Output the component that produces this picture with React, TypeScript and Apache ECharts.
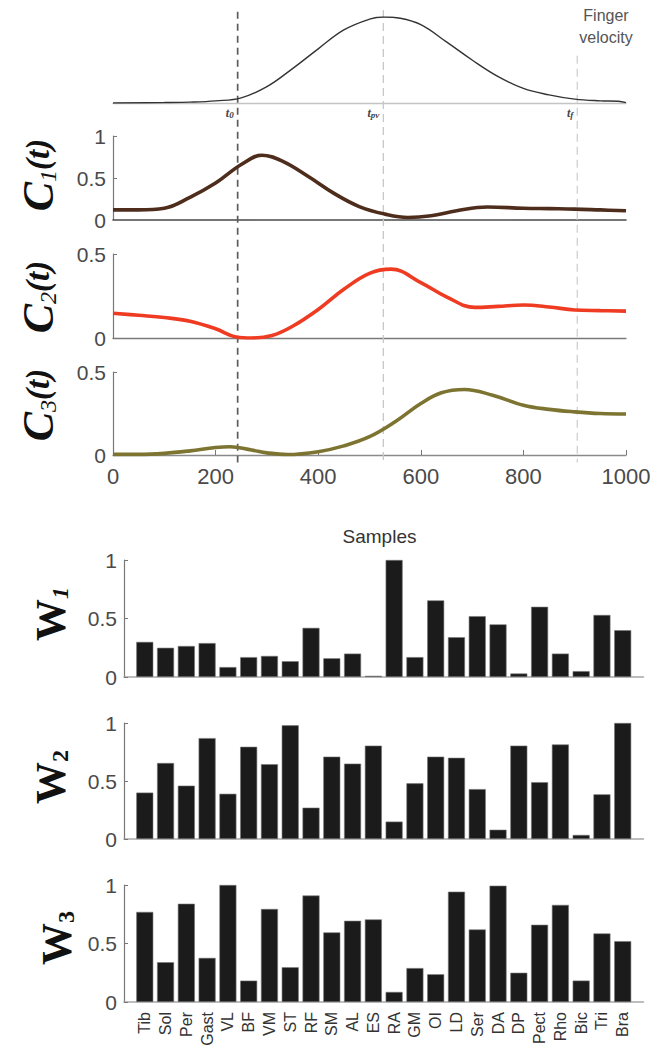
import React, { useEffect, useRef } from "react";
import * as echarts from "echarts";

// ---------- data ----------
const sampleTicks = [0, 200, 400, 600, 800, 1000];

const velocityT = [0, 100, 150, 200, 250, 300, 350, 400, 450, 500, 527, 560, 600, 650, 700, 750, 800, 850, 900, 950, 985, 1000];
const velocityV = [0, 0.005, 0.01, 0.025, 0.06, 0.19, 0.4, 0.63, 0.85, 0.975, 1.0, 0.985, 0.91, 0.71, 0.5, 0.31, 0.17, 0.095, 0.045, 0.025, 0.02, 0.004];

const c1T = [0, 50, 100, 150, 200, 250, 290, 330, 380, 430, 480, 530, 575, 620, 670, 730, 800, 850, 900, 950, 1000];
const c1V = [0.12, 0.12, 0.14, 0.27, 0.44, 0.66, 0.77, 0.7, 0.52, 0.32, 0.16, 0.07, 0.03, 0.05, 0.11, 0.155, 0.14, 0.135, 0.13, 0.12, 0.11];

const c2T = [0, 50, 100, 150, 200, 240, 270, 310, 350, 400, 450, 500, 542, 600, 650, 705, 750, 800, 850, 900, 950, 1000];
const c2V = [0.147, 0.135, 0.122, 0.1, 0.055, 0.006, 0.0, 0.015, 0.07, 0.17, 0.29, 0.385, 0.41, 0.33, 0.245, 0.182, 0.188, 0.196, 0.185, 0.167, 0.163, 0.16];

const c3T = [0, 50, 100, 150, 200, 228, 270, 300, 340, 400, 450, 500, 550, 600, 640, 685, 740, 800, 850, 900, 950, 1000];
const c3V = [0.004, 0.004, 0.01, 0.025, 0.045, 0.05, 0.03, 0.013, 0.003, 0.02, 0.055, 0.11, 0.2, 0.31, 0.375, 0.395, 0.36, 0.3, 0.275, 0.26, 0.25, 0.247];

const phaseSubs = ["0", "pv", "f"];
const phaseTimes = [243, 527, 905];

const muscles = ["Tib", "Sol", "Per", "Gast", "VL", "BF", "VM", "ST", "RF", "SM", "AL", "ES", "RA", "GM", "OI", "LD", "Ser", "DA", "DP", "Pect", "Rho", "Bic", "Tri", "Bra"];
const w1 = [0.3, 0.25, 0.265, 0.29, 0.085, 0.17, 0.18, 0.135, 0.42, 0.16, 0.2, 0.01, 1.0, 0.17, 0.655, 0.34, 0.52, 0.45, 0.03, 0.6, 0.2, 0.05, 0.53, 0.4];
const w2 = [0.4, 0.655, 0.46, 0.87, 0.39, 0.795, 0.645, 0.98, 0.27, 0.71, 0.65, 0.805, 0.15, 0.48, 0.71, 0.7, 0.43, 0.08, 0.805, 0.49, 0.815, 0.035, 0.385, 1.0];
const w3 = [0.77, 0.34, 0.84, 0.377, 1.0, 0.183, 0.795, 0.297, 0.91, 0.595, 0.694, 0.706, 0.086, 0.29, 0.237, 0.943, 0.62, 0.994, 0.25, 0.66, 0.83, 0.183, 0.586, 0.52];

// ---------- styles ----------
const SANS = "Liberation Sans";
const SERIF = "Liberation Serif";

export default function App() {
  const ref = useRef<HTMLDivElement>(null);

  useEffect(() => {
    const chart = echarts.init(ref.current!, null, { renderer: "svg" });
    const pairs = (xs: number[], ys: number[]) => xs.map((x, i) => [x, ys[i]]);

    const gridsC = [
      { top: 17, height: 86 },
      { top: 136, height: 84 },
      { top: 254, height: 84 },
      { top: 372, height: 83 },
    ];
    const gridsW = [
      { top: 560, height: 117 },
      { top: 723, height: 116 },
      { top: 885, height: 117 },
    ];
    const grid = [
      ...gridsC.map((g) => ({ left: 113, right: 37, outerBoundsMode: "none", ...g })),
      ...gridsW.map((g) => ({ left: 124, right: 19.5, outerBoundsMode: "none", ...g })),
    ];

    const cAxisLine = ["#c4c4c4", "#4a4a4a", "#7a7a7a", "#8a8a8a"];
    const xAxis: any[] = [
      ...[0, 1, 2, 3].map((i) => ({
        type: "value",
        gridIndex: i,
        min: sampleTicks[0],
        max: sampleTicks[sampleTicks.length - 1],
        interval: sampleTicks[1] - sampleTicks[0],
        axisLine: { show: true, onZero: false, lineStyle: { color: cAxisLine[i], width: i === 1 ? 1.6 : 1.3 } },
        axisTick: { show: i === 3, inside: true, length: 5, lineStyle: { color: "#777" } },
        axisLabel: {
          show: i === 3,
          fontSize: 22,
          color: "#4a4a4a",
          fontFamily: SANS,
          margin: 10,
          formatter: (v: number) => String(v),
        },
        splitLine: { show: false },
        name: i === 3 ? "Samples" : "",
        nameLocation: "middle",
        nameGap: 72,
        nameTextStyle: { fontSize: 19, color: "#333", fontFamily: SANS, padding: [0, 0, 0, 20] },
      })),
      ...[4, 5, 6].map((i) => ({
        type: "value",
        gridIndex: i,
        min: 0,
        max: muscles.length + 1,
        interval: 1,
        axisLine: { show: true, onZero: false, lineStyle: { color: "#a8a8a8", width: 1.6 } },
        axisTick: { show: false },
        axisLabel: {
          show: i === 6,
          rotate: 90,
          fontSize: 16,
          color: "#333",
          fontFamily: SANS,
          margin: 10,
          formatter: (v: number) => muscles[v - 1] ?? "",
        },
        splitLine: { show: false },
      })),
    ];

    const cMax = [1, 1, 0.5, 0.5];
    const yCommon = {
      type: "value",
      min: 0,
      interval: 0.5,
      axisLine: { show: true, onZero: false, lineStyle: { color: "#777", width: 1.2 } },
      axisTick: { show: true, inside: true, length: 4, lineStyle: { color: "#777" } },
      axisLabel: { fontSize: 21, color: "#4a4a4a", fontFamily: SANS, margin: 7 },
      splitLine: { show: false },
    };
    const yAxis: any[] = [
      { type: "value", gridIndex: 0, min: 0, max: 1, show: false },
      ...[1, 2, 3].map((i) => ({ ...yCommon, gridIndex: i, max: cMax[i] })),
      ...[4, 5, 6].map((i) => ({ ...yCommon, gridIndex: i, max: 1 })),
    ];

    const lineSeries = (idx: number, data: number[][], color: string, width: number) => ({
      type: "line",
      xAxisIndex: idx,
      yAxisIndex: idx,
      data,
      smooth: 0.4,
      symbol: "none",
      lineStyle: { color, width },
      z: 3,
    });
    const barSeries = (idx: number, vals: number[]) => ({
      type: "bar",
      xAxisIndex: idx,
      yAxisIndex: idx,
      data: vals.map((v, i) => [i + 1, v]),
      barWidth: 17,
      itemStyle: { color: "#1b1b1b", borderColor: "#777", borderWidth: 0.6 },
    });

    const option: any = {
      animation: false,
      backgroundColor: "#ffffff",
      grid,
      xAxis,
      yAxis,
      series: [
        lineSeries(0, pairs(velocityT, velocityV), "#333333", 1.4),
        lineSeries(1, pairs(c1T, c1V), "#4f2d1c", 3.6),
        lineSeries(2, pairs(c2T, c2V), "#ee3b22", 3.6),
        lineSeries(3, pairs(c3T, c3V), "#7c7430", 3.6),
        barSeries(4, w1),
        barSeries(5, w2),
        barSeries(6, w3),
      ],
    };
    chart.setOption(option);

    // ---- phase markers & labels placed through the axes' own scales ----
    const px = (t: number) => chart.convertToPixel({ xAxisIndex: 1 }, t) as number;
    const py = (axis: number, v: number) => chart.convertToPixel({ yAxisIndex: axis }, v) as number;
    const yBase = py(0, 0);
    const yBottom = py(3, -0.045);
    const markerStyle = [
      { stroke: "#5c5c5c", lineWidth: 1.7, lineDash: [7, 5], top: 1.06 },
      { stroke: "#c8c8c8", lineWidth: 1.3, lineDash: [8, 5], top: 1.08 },
      { stroke: "#d0d0d0", lineWidth: 1.3, lineDash: [8, 5], top: 0.55 },
    ];
    const elements: any[] = [];
    phaseTimes.forEach((t, i) => {
      const x = px(t);
      const s = markerStyle[i];
      elements.push({
        type: "line",
        silent: true,
        z: 1,
        shape: { x1: x, y1: py(0, s.top), x2: x, y2: yBottom },
        style: { stroke: s.stroke, lineWidth: s.lineWidth, lineDash: s.lineDash },
      });
      elements.push({
        type: "text",
        silent: true,
        x: x - 4,
        y: yBase + 4,
        style: {
          text: `{t|t}{s|${phaseSubs[i]}}`,
          align: "right",
          verticalAlign: "top",
          rich: {
            t: { fontFamily: SERIF, fontStyle: "italic", fontWeight: "bold", fontSize: 12, fill: "#444" },
            s: { fontFamily: SERIF, fontStyle: "italic", fontWeight: "bold", fontSize: 9, fill: "#444", verticalAlign: "bottom" },
          },
        },
      });
    });

    elements.push({
      type: "text",
      silent: true,
      x: 606,
      y: 26,
      style: {
        text: "Finger\nvelocity",
        align: "center",
        verticalAlign: "middle",
        fontFamily: SANS,
        fontSize: 16,
        lineHeight: 22,
        fill: "#555",
      },
    });

    const cLabelY = [175, 297, 405];
    ["1", "2", "3"].forEach((sub, i) => {
      elements.push({
        type: "text",
        silent: true,
        x: 38,
        y: cLabelY[i],
        rotation: Math.PI / 2,
        style: {
          text: `{c|C}{s|${sub}}{p|(t)}`,
          align: "center",
          verticalAlign: "middle",
          rich: {
            c: { fontFamily: SERIF, fontStyle: "italic", fontWeight: "bold", fontSize: 44, fill: "#111" },
            s: { fontFamily: SERIF, fontStyle: "italic", fontSize: 24, fill: "#111", verticalAlign: "bottom" },
            p: { fontFamily: SERIF, fontStyle: "italic", fontWeight: "bold", fontSize: 33, fill: "#111" },
          },
        },
      });
    });

    const wLabelX = [51, 51, 57];
    const wLabelY = [614, 777, 938];
    ["1", "2", "3"].forEach((sub, i) => {
      elements.push({
        type: "text",
        silent: true,
        x: wLabelX[i],
        y: wLabelY[i],
        rotation: Math.PI / 2,
        style: {
          text: `{w|W}{s|${sub}}`,
          align: "center",
          verticalAlign: "middle",
          rich: {
            w: { fontFamily: SERIF, fontWeight: "bold", fontSize: 42, fill: "#111" },
            s: { fontFamily: SERIF, fontWeight: "bold", fontStyle: i === 0 ? "italic" : "normal", fontSize: 24, fill: "#111", verticalAlign: "bottom" },
          },
        },
      });
    });

    chart.setOption({ graphic: { elements } });

    return () => chart.dispose();
  }, []);

  return (
    <div
      ref={ref}
      style={{ position: "absolute", left: 0, top: 0, width: 663, height: 1064, background: "#fff" }}
    />
  );
}
